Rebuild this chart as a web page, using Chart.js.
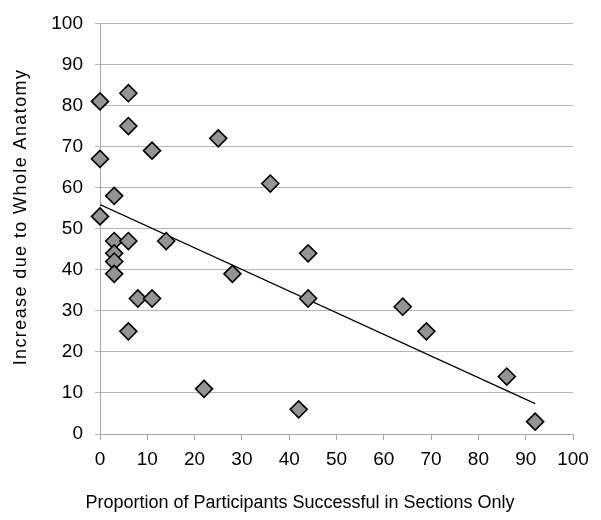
<!DOCTYPE html>
<html>
<head>
<meta charset="utf-8">
<script src="https://cdn.jsdelivr.net/npm/chart.js@4.4.1/dist/chart.umd.min.js"></script>
<style>
  html, body { margin: 0; padding: 0; background: #fff; }
  #wrap { width: 601px; height: 520px; }
</style>
</head>
<body>
<div id="wrap"><canvas id="chart-area" width="601" height="520"></canvas></div>
<script>
// data
var sectionsOnly = [0, 0, 0, 3, 3, 3, 3, 3, 6, 6, 6, 6, 8, 11, 11, 14, 22, 25, 28, 36, 42, 44, 44, 64, 69, 86, 92];
var wholeIncrease = [81, 67, 53, 58, 47, 44, 42, 39, 83, 75, 47, 25, 33, 69, 33, 47, 11, 72, 39, 61, 6, 44, 33, 31, 25, 14, 3];
// linear trend line ends, as drawn in the picture
var trendX = [0, 92];
var trendY = [55.9, 7.4];
var xTitle = 'Proportion of Participants Successful in Sections Only';
var yTitle = 'Increase due to Whole Anatomy';

var points = sectionsOnly.map(function (x, i) {
    return { x: x, y: wholeIncrease[i] };
});
var trendPoints = trendX.map(function (x, i) {
    return { x: x, y: trendY[i] };
});

var fontFamily = '"Liberation Sans", Arial, sans-serif';
Chart.defaults.font.family = fontFamily;
Chart.defaults.font.size = 19;
Chart.defaults.color = '#000';

// axis titles, placed as in the picture (x title centred on the page)
var axisTitles = {
    id: 'axisTitles',
    afterDraw: function (chart) {
        var ctx = chart.ctx;
        ctx.save();
        ctx.fillStyle = '#000';
        ctx.font = '18px ' + fontFamily;
        ctx.textAlign = 'center';
        ctx.textBaseline = 'alphabetic';
        ctx.fillText(xTitle, 300, 508);

        ctx.translate(21, 217);
        ctx.rotate(-Math.PI / 2);
        ctx.textBaseline = 'middle';
        if ('letterSpacing' in ctx) ctx.letterSpacing = '1.4px';
        ctx.fillText(yTitle, 0, 0);
        ctx.restore();
    }
};

var config = {
    type: 'scatter',
    data: {
        datasets: [{
            label: 'points',
            data: points,
            pointStyle: 'rectRot',
            pointRadius: 8.5,
            pointHoverRadius: 8.5,
            backgroundColor: '#949494',
            borderColor: '#000',
            borderWidth: 1.6,
            clip: false,
            order: 1
        }, {
            label: 'trend',
            type: 'line',
            data: trendPoints,
            borderColor: '#000',
            borderWidth: 1.2,
            pointRadius: 0,
            fill: false,
            order: 2
        }]
    },
    options: {
        responsive: false,
        animation: false,
        layout: { autoPadding: false, padding: { top: 20, right: 28, left: 0, bottom: 0 } },
        plugins: {
            legend: { display: false },
            tooltip: { enabled: false }
        },
        scales: {
            x: {
                type: 'linear',
                min: 0,
                max: 100,
                ticks: { stepSize: 10, padding: 8 },
                grid: { drawOnChartArea: false, drawTicks: true, tickLength: 6, color: '#a8a8a8' },
                border: { color: '#a8a8a8' },
                afterFit: function (s) { s.height = 86; }
            },
            y: {
                min: 0,
                max: 100,
                ticks: { stepSize: 10, padding: 12 },
                grid: { color: '#b5b5b5', tickLength: 5 },
                border: { color: '#a8a8a8' },
                afterFit: function (s) { s.width = 100; }
            }
        }
    },
    plugins: [axisTitles]
};

window.onload = function () {
    var ctx = document.getElementById('chart-area').getContext('2d');
    window.myScatter = new Chart(ctx, config);
};
</script>
</body>
</html>
